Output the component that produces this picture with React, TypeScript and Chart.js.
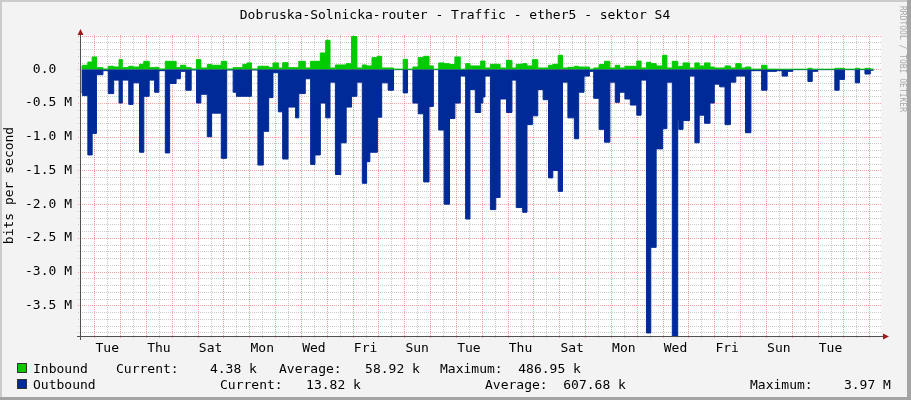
import { useEffect, useRef } from 'react';
import { Chart, registerables } from 'chart.js';

Chart.register(...registerables);

const FONT = '"DejaVu Sans Mono", "Liberation Mono", monospace';
const GREEN = '#00CC00';
const BLUE = '#002A97';

// Segment start times (hours since the first Tuesday 00:00), values hold until next time
const hours = [
  -12, -11, -6, -2, 2, 8, 13, 18, 23, 26, 32, 36, 42, 46, 51, 56, 60, 66, 70, 76, 80, 85, 90, 95, 99,
  105, 109, 118, 123, 129, 132, 138, 142, 146, 152, 157, 162, 166, 171, 175, 180, 187, 190, 196, 201,
  205, 210, 215, 219, 224, 229, 234, 239, 244, 249, 253, 256, 258, 263, 267, 273, 278, 287, 291, 296,
  301, 306, 311, 315, 320, 325, 330, 335, 340, 345, 349, 354, 359, 361, 363, 368, 373, 377, 383, 388,
  392, 398, 402, 407, 412, 417, 422, 426, 431, 435, 440, 446, 450, 455, 460, 464, 469, 474, 479, 484,
  488, 493, 498, 504, 508, 513, 517, 522, 528, 532, 537, 542, 543, 547, 553, 558, 562, 567, 572, 576,
  581, 586, 591, 596, 601, 605, 610, 620, 625, 634, 639, 644, 649, 663, 667, 672, 688, 692, 697, 707,
  711, 716, 721, 724,
];

// Outbound traffic, kbit/s (drawn below zero)
const outboundKbps = [
  340, 390, 1270, 950, 80, 20, 360, 160, 500, 160, 520, 200, 1230, 400, 160, 340, 20, 1240, 210, 140,
  30, 310, 10, 500, 370, 1000, 650, 1320, 10, 340, 400, 400, 400, 10, 1420, 920, 420, 50, 630, 1330,
  560, 720, 360, 140, 1410, 1270, 500, 720, 190, 1560, 1090, 560, 400, 190, 1690, 1370, 1230, 1230,
  710, 200, 310, 5, 350, 5, 500, 660, 1670, 550, 5, 900, 2000, 730, 500, 100, 2220, 300, 640, 500,
  410, 100, 2080, 1900, 440, 640, 160, 2050, 2120, 820, 690, 300, 450, 1610, 1500, 1810, 190, 720,
  1030, 340, 100, 30, 430, 890, 1080, 190, 490, 340, 440, 530, 680, 160, 3910, 2640, 1180, 880, 190,
  3970, 760, 890, 760, 100, 1090, 680, 800, 500, 220, 260, 820, 190, 100, 100, 940, 20, 310, 30, 20,
  100, 30, 5, 180, 30, 5, 310, 150, 5, 200, 5, 70, 13.82, 13.82,
];

// Inbound traffic, kbit/s (drawn above zero)
const inboundKbps = [
  34, 60, 108, 183, 25, 5, 45, 34, 144, 25, 45, 34, 74, 119, 25, 30, 5, 119, 119, 25, 60, 25, 5, 144,
  20, 70, 60, 119, 5, 25, 25, 74, 95, 5, 45, 45, 25, 95, 20, 99, 25, 25, 119, 20, 119, 119, 242, 430,
  20, 65, 65, 84, 487, 20, 65, 50, 50, 173, 193, 20, 20, 3, 148, 3, 34, 173, 193, 50, 3, 95, 84, 70,
  183, 3, 84, 50, 50, 123, 123, 20, 74, 74, 20, 133, 20, 74, 84, 50, 143, 20, 20, 60, 74, 208, 20, 30,
  45, 34, 34, 3, 20, 70, 119, 20, 60, 20, 45, 45, 123, 20, 104, 84, 50, 208, 20, 119, 45, 45, 95, 20,
  95, 50, 95, 34, 20, 20, 50, 20, 84, 20, 34, 3, 60, 3, 2, 2, 2, 2, 15, 2, 2, 15, 15, 2, 15, 2, 15,
  4.38, 4.38,
];

const xTickLabels = ['Tue', 'Thu', 'Sat', 'Mon', 'Wed', 'Fri', 'Sun', 'Tue', 'Thu', 'Sat', 'Mon', 'Wed', 'Fri', 'Sun', 'Tue'];
const yTickLabels = ['0.0  ', '-0.5 M', '-1.0 M', '-1.5 M', '-2.0 M', '-2.5 M', '-3.0 M', '-3.5 M'];

const TITLE = 'Dobruska-Solnicka-router - Traffic - ether5 - sektor S4';
const Y_TITLE = 'bits per second';
const WATERMARK = 'RRDTOOL / TOBI OETIKER';
const legendRows = [
  { name: 'Inbound', color: GREEN, items: ['Current:    4.38 k', 'Average:   58.92 k', 'Maximum:  486.95 k'] },
  { name: 'Outbound', color: BLUE, items: ['Current:   13.82 k', 'Average:  607.68 k', 'Maximum:    3.97 M'] },
];

const X_MIN = -12.36;
const X_MAX = 730.9;
const Y_MIN = -3955000;
const Y_MAX = 509000;

const MAJOR = 'rgba(240, 100, 100, 0.6)';
const MINOR = 'rgba(160, 160, 160, 0.55)';

const legendX = [
  [33, 116, 279, 440],
  [33, 220, 485, 750],
];
const legendBaseline = [373, 389];

const decor = {
  id: 'rrdDecor',
  beforeDraw(chart: any) {
    const { ctx, chartArea: a, width, height } = chart;
    ctx.save();
    ctx.fillStyle = '#F3F3F3';
    ctx.fillRect(0, 0, width, height);
    ctx.fillStyle = '#CBCBCB';
    ctx.fillRect(0, 0, width, 2);
    ctx.fillRect(0, 0, 2, height);
    ctx.fillStyle = '#A4A4A4';
    ctx.fillRect(width - 4, 0, 4, height);
    ctx.fillRect(0, height - 3, width, 3);
    ctx.fillStyle = '#FFFFFF';
    ctx.fillRect(a.left, a.top, a.right - a.left, a.bottom - a.top);
    ctx.restore();
  },
  beforeDatasetsDraw(chart: any) {
    const { ctx, chartArea: a, scales } = chart;
    const xs = scales.x;
    const ys = scales.y;
    ctx.save();
    ctx.lineWidth = 1;
    ctx.setLineDash([1, 1]);
    // horizontal grid
    for (let i = -39; i <= 5; i++) {
      const y = Math.round(ys.getPixelForValue(i * 100000)) + 0.5;
      if (y < a.top || y > a.bottom) continue;
      ctx.strokeStyle = i % 5 === 0 ? MAJOR : MINOR;
      ctx.beginPath();
      ctx.moveTo(a.left - 3, y);
      ctx.lineTo(a.right, y);
      ctx.stroke();
    }
    // vertical grid
    for (let h = 0; h <= 720; h += 12) {
      const x = Math.round(xs.getPixelForValue(h)) + 0.5;
      if (x < a.left || x > a.right) continue;
      ctx.strokeStyle = h % 24 === 0 ? MAJOR : MINOR;
      ctx.beginPath();
      ctx.moveTo(x, a.top);
      ctx.lineTo(x, a.bottom + 3);
      ctx.stroke();
    }
    ctx.restore();
  },
  afterDraw(chart: any) {
    const { ctx, chartArea: a } = chart;
    ctx.save();
    // axes
    ctx.strokeStyle = '#505050';
    ctx.lineWidth = 1;
    ctx.beginPath();
    ctx.moveTo(a.left - 4, a.bottom + 0.5);
    ctx.lineTo(a.right + 3, a.bottom + 0.5);
    ctx.moveTo(a.left - 0.5, a.bottom + 4);
    ctx.lineTo(a.left - 0.5, a.top - 3);
    ctx.stroke();
    // arrows
    ctx.fillStyle = '#9B1B1B';
    ctx.beginPath();
    ctx.moveTo(a.left - 3.5, a.top);
    ctx.lineTo(a.left + 2.5, a.top);
    ctx.lineTo(a.left - 0.5, a.top - 6);
    ctx.closePath();
    ctx.fill();
    ctx.beginPath();
    ctx.moveTo(a.right + 2, a.bottom - 2.5);
    ctx.lineTo(a.right + 2, a.bottom + 3.5);
    ctx.lineTo(a.right + 8, a.bottom + 0.5);
    ctx.closePath();
    ctx.fill();

    // title
    ctx.fillStyle = '#000';
    ctx.font = `13px ${FONT}`;
    ctx.textAlign = 'center';
    ctx.textBaseline = 'alphabetic';
    ctx.fillText(TITLE, 455, 19);

    // legend
    ctx.textAlign = 'left';
    legendRows.forEach((row, r) => {
      const yb = legendBaseline[r];
      ctx.fillStyle = row.color;
      ctx.fillRect(17, yb - 10, 10, 10);
      ctx.strokeStyle = '#333';
      ctx.strokeRect(17.5, yb - 9.5, 9, 9);
      ctx.fillStyle = '#000';
      ctx.fillText(row.name, legendX[r][0], yb);
      row.items.forEach((t, i) => ctx.fillText(t, legendX[r][i + 1], yb));
    });

    // watermark
    ctx.translate(902.5, 6);
    ctx.rotate(Math.PI / 2);
    ctx.font = `8px ${FONT}`;
    ctx.fillStyle = '#A8A8A8';
    ctx.textBaseline = 'middle';
    ctx.fillText(WATERMARK, 0, 0);
    ctx.restore();
  },
};

export default function App() {
  const ref = useRef<HTMLCanvasElement | null>(null);

  useEffect(() => {
    if (!ref.current) return;
    const chart = new Chart(ref.current, {
      type: 'line',
      data: {
        datasets: [
          {
            label: 'Inbound',
            data: hours.map((h, i) => ({ x: h, y: inboundKbps[i] * 1000 })),
            stepped: true,
            fill: 'origin',
            backgroundColor: GREEN,
            borderColor: GREEN,
            borderWidth: 1,
            pointRadius: 0,
          },
          {
            label: 'Outbound',
            data: hours.map((h, i) => ({ x: h, y: -outboundKbps[i] * 1000 })),
            stepped: true,
            fill: 'origin',
            backgroundColor: BLUE,
            borderColor: BLUE,
            borderWidth: 1,
            pointRadius: 0,
          },
        ],
      },
      options: {
        animation: false,
        responsive: false,
        events: [],
        layout: { padding: { left: 0, top: 35, right: 30, bottom: 0 } },
        plugins: {
          legend: { display: false },
          tooltip: { enabled: false },
          title: { display: false },
        },
        scales: {
          x: {
            type: 'linear',
            min: X_MIN,
            max: X_MAX,
            afterFit: (s: any) => {
              s.height = 64;
            },
            afterBuildTicks: (s: any) => {
              const t: any[] = [];
              for (let h = 0; h <= 720; h += 12) t.push({ value: h });
              s.ticks = t;
            },
            ticks: {
              autoSkip: false,
              maxRotation: 0,
              padding: 2,
              color: '#000',
              font: { family: FONT, size: 13 },
              callback: (v: any) => {
                const k = (Number(v) - 12) / 48;
                return Number.isInteger(k) && k >= 0 && k < xTickLabels.length ? xTickLabels[k] : '';
              },
            },
            grid: { display: false, drawTicks: true, tickLength: 3 },
            border: { display: false },
          },
          y: {
            type: 'linear',
            min: Y_MIN,
            max: Y_MAX,
            afterFit: (s: any) => {
              s.width = 81;
            },
            afterBuildTicks: (s: any) => {
              const t: any[] = [];
              for (let i = -39; i <= 5; i++) t.push({ value: i * 100000 });
              s.ticks = t;
            },
            ticks: {
              autoSkip: false,
              padding: 6,
              color: '#000',
              font: { family: FONT, size: 13 },
              callback: (v: any) => {
                const i = Math.round(Number(v) / 100000);
                if (i > 0 || i % 5 !== 0) return '';
                return yTickLabels[-i / 5] ?? '';
              },
            },
            title: {
              display: true,
              text: Y_TITLE,
              color: '#000',
              font: { family: FONT, size: 13 },
              padding: { top: 2, bottom: 0 },
            },
            grid: { display: false, drawTicks: true, tickLength: 3 },
            border: { display: false },
          },
        },
      },
      plugins: [decor],
    } as any);
    return () => chart.destroy();
  }, []);

  return (
    <div style={{ position: 'absolute', left: 0, top: 0, width: 911, height: 400 }}>
      <canvas ref={ref} width={911} height={400} style={{ display: 'block', width: 911, height: 400 }} />
    </div>
  );
}
